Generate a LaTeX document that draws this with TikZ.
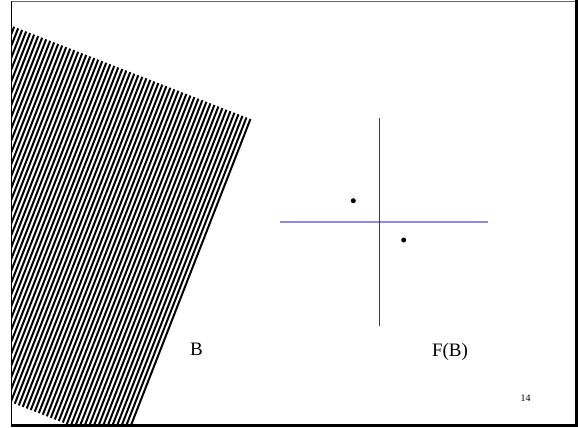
\documentclass[tikz,border=0pt]{standalone}
\usepackage{fontspec}
\setmainfont{Liberation Serif}
\begin{document}
\begin{tikzpicture}[x=1pt,y=-1pt,
  stripe/.style={line width=2.0pt,black},
  framestyle/.style={line width=1.5pt,black},
  axisv/.style={line width=1pt,color={rgb,255:red,40;green,40;blue,200}},
  axish/.style={line width=1.6pt,color={rgb,255:red,140;green,140;blue,230}},
  dotstyle/.style={circle,fill=black,inner sep=0pt,minimum size=5pt},
  lbl/.style={font=\fontsize{19}{22}\selectfont,inner sep=0pt}]
\useasboundingbox (0,0) rectangle (578,428);
% hatched rotated square, clipped by the frame
\begin{scope}
  \clip (11.5,1.5) rectangle (575,424);
  \clip (-74.0,-7.6) -- (253,120) -- ({253-351*0.3634},{120+351*0.9316}) -- ({-74.0-351*0.3634},{-7.6+351*0.9316}) -- cycle;
  \foreach \k in {0,...,84} {
    \draw[stripe] ({-74.0+\k*4.3*0.9316+10*0.3634},{-7.6+\k*4.3*0.3634-10*0.9316}) -- ++({-380*0.3634},{380*0.9316});
  }
\end{scope}
% frame
\draw[framestyle] (11.5,424) -- (11.5,1.2);
\draw[line width=0.8pt,black!60] (11.5,1.2) -- (575,1.2);
\draw[line width=3pt] (576,0) -- (576,425.5) -- (11,425.5);
% axes
\coordinate (vt) at (379.3,118);
\coordinate (vb) at (379.3,326);
\coordinate (hl) at (280,222);
\coordinate (hr) at (488,222);
\draw[axish] (hl) -- (hr);
\draw[axisv] (vt) -- (vb);
% dots
\node[dotstyle] (p1) at (353.3,200.7) {};
\node[dotstyle] (p2) at (403.7,240) {};
% labels
\node[lbl] (B) at (196.5,349.5) {B};
\node[lbl] (FB) at (450,352) {F(B)};
\node[font=\fontsize{10}{12}\selectfont,inner sep=0pt] (num) at (525.5,398.5) {14};
\end{tikzpicture}
\end{document}
